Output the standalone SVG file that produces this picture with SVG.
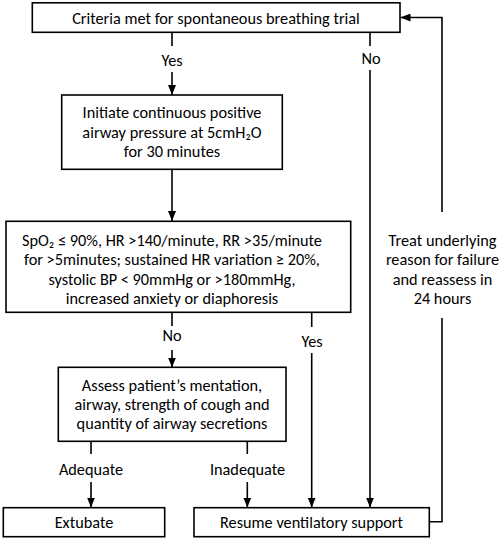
<svg xmlns="http://www.w3.org/2000/svg" width="501" height="539" viewBox="0 0 501 539">
<style>
.box{fill:#fff;stroke:#000;stroke-width:1.6}
.t{font-family:Carlito,Lato,"Liberation Sans",sans-serif;font-size:16.3px;fill:#000;text-anchor:middle}
.ln{fill:none;stroke:#000;stroke-width:1.6}
</style>
<defs>
<marker id="ah" markerWidth="10" markerHeight="8" refX="10" refY="4" orient="auto" markerUnits="userSpaceOnUse">
<path d="M0,0 L10,4 L0,8 Z" fill="#000"/>
</marker>
</defs>
<rect width="501" height="539" fill="#fff"/>
<g id="connectors">
<path class="ln" d="M172,32 V46"/>
<path class="ln" d="M172,72 V95" marker-end="url(#ah)"/>
<path class="ln" d="M370,32 V46"/>
<path class="ln" d="M370,70 V507.5" marker-end="url(#ah)"/>
<path class="ln" d="M172,169 V221" marker-end="url(#ah)"/>
<path class="ln" d="M172,312 V326"/>
<path class="ln" d="M172,350 V367.5" marker-end="url(#ah)"/>
<path class="ln" d="M311.7,312 V327"/>
<path class="ln" d="M311.7,353 V507.5" marker-end="url(#ah)"/>
<path class="ln" d="M91,441 V454"/>
<path class="ln" d="M91,482 V507.5" marker-end="url(#ah)"/>
<path class="ln" d="M247.3,441 V454"/>
<path class="ln" d="M247.3,482 V507.5" marker-end="url(#ah)"/>
<path class="ln" d="M429,521.7 H442 V318"/>
<path class="ln" d="M442,212 V17.5 H400.5" marker-end="url(#ah)"/>
<text class="t" x="172" y="65.5">Yes</text>
<text class="t" x="371" y="63.5">No</text>
<text class="t" x="172" y="340.5">No</text>
<text class="t" x="312" y="347">Yes</text>
<text class="t" x="91" y="474.5">Adequate</text>
<text class="t" x="247.5" y="474.5">Inadequate</text>
<text class="t" x="442.5" y="245.5">Treat underlying</text>
<text class="t" x="442.5" y="265">reason for failure</text>
<text class="t" x="442.5" y="284.5">and reassess in</text>
<text class="t" x="442.5" y="304">24 hours</text>
</g>
<g id="n1">
<rect class="box" x="32.3" y="2.8" width="367.7" height="29.5"/>
<text class="t" x="216" y="23.5">Criteria met for spontaneous breathing trial</text>
</g>
<g id="n2">
<rect class="box" x="61.7" y="95" width="220.6" height="74.3"/>
<text class="t" x="172" y="118">Initiate continuous positive</text>
<text class="t" x="172" y="137.5">airway pressure at 5cmH₂O</text>
<text class="t" x="172" y="157">for 30 minutes</text>
</g>
<g id="n3">
<rect class="box" x="6" y="221.3" width="344.7" height="91"/>
<text class="t" x="172" y="245.5">SpO₂ ≤ 90%, HR &gt;140/minute, RR &gt;35/minute</text>
<text class="t" x="172" y="265">for &gt;5minutes; sustained HR variation ≥ 20%,</text>
<text class="t" x="172" y="284.5">systolic BP &lt; 90mmHg or &gt;180mmHg,</text>
<text class="t" x="172" y="304">increased anxiety or diaphoresis</text>
</g>
<g id="n4">
<rect class="box" x="58.3" y="367.3" width="227.7" height="74"/>
<text class="t" x="172" y="390.5">Assess patient’s mentation,</text>
<text class="t" x="172" y="410">airway, strength of cough and</text>
<text class="t" x="172" y="429">quantity of airway secretions</text>
</g>
<g id="n5">
<rect class="box" x="3.3" y="507.7" width="161.4" height="29"/>
<text class="t" x="84" y="528">Extubate</text>
</g>
<g id="n6">
<rect class="box" x="194" y="507.7" width="235.3" height="29"/>
<text class="t" x="311.5" y="528">Resume ventilatory support</text>
</g>
</svg>
